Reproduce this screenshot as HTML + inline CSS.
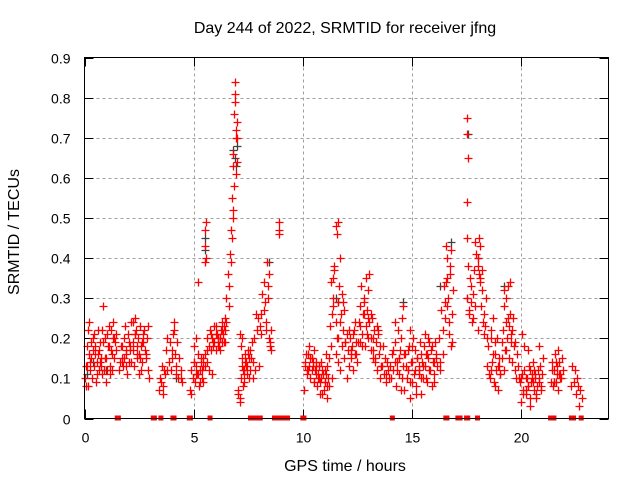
<!DOCTYPE html>
<html><head><meta charset="utf-8"><style>
body{margin:0;background:#fff;width:640px;height:480px;overflow:hidden}
svg{display:block;font-family:"Liberation Sans",sans-serif}
</style></head><body>
<svg id="chart" width="640" height="480">
<text x="345" y="33" font-size="16" text-anchor="middle" fill="#000">Day 244 of 2022, SRMTID for receiver jfng</text>
<text x="19" y="232" font-size="16" text-anchor="middle" transform="rotate(-90 19 232)">SRMTID / TECUs</text>
<text x="345" y="471" font-size="16" text-anchor="middle">GPS time / hours</text>
<g id="grid"></g>
<g id="ticks"></g>
<g id="gray"></g>
<g id="red"></g>
<rect x="84.5" y="57.5" width="524" height="361" fill="none" stroke="#000" stroke-width="1"/>
</svg>
<script>
const xTicks=[0,5,10,15,20];
const yTicks=[0,0.1,0.2,0.3,0.4,0.5,0.6,0.7,0.8,0.9];
const yTickLabels=["0","0.1","0.2","0.3","0.4","0.5","0.6","0.7","0.8","0.9"];
const redTimes=[0.02,0.05,0.1,0.12,0.15,0.2,0.22,0.25,0.3,0.32,0.35,0.4,0.42,0.45,0.5,0.52,0.55,0.6,0.62,0.65,0.7,0.72,0.75,0.8,0.82,0.85,0.9,0.92,0.95,1.0,1.02,1.05,1.1,1.12,1.15,1.2,1.22,1.25,1.3,1.32,1.35,1.4,1.42,1.45,
1.6,1.65,1.7,1.75,1.8,1.85,1.9,1.95,2.0,2.05,2.1,2.15,2.2,2.25,2.3,2.35,2.4,2.45,2.5,2.55,2.6,2.65,2.7,2.75,2.8,2.85,2.9,2.95,1.7,1.9,2.1,2.3,2.5,2.7,2.9,2.2,2.4,2.6,
3.4,3.45,3.5,3.55,3.6,3.65,3.7,3.75,3.8,3.85,3.9,3.95,4.0,4.05,4.1,4.15,4.2,4.25,4.3,4.35,4.4,4.45,3.6,3.8,4.0,4.2,4.4,4.1,
4.85,4.9,4.95,5.0,5.05,5.1,5.15,5.2,5.25,5.3,5.35,5.4,5.45,5.5,4.9,5.0,5.1,5.2,5.3,5.4,5.45,5.5,5.5,5.5,5.52,5.55,5.55,5.6,5.62,5.63,
5.7,5.75,5.8,5.85,5.9,5.95,6.0,6.05,6.1,6.15,6.2,6.25,6.3,6.35,6.4,6.45,6.5,5.8,5.9,6.0,6.1,6.2,6.3,6.4,6.45,6.5,6.55,6.6,6.65,6.7,6.75,6.78,6.8,6.82,6.85,6.88,6.9,6.92,6.95,6.98,7.0,6.6,6.7,6.8,6.9,7.0,6.85,6.75,6.95,
7.05,7.1,7.15,7.2,7.25,7.3,7.35,7.4,7.45,7.5,7.55,7.6,7.65,7.7,7.75,7.1,7.2,7.3,7.4,7.5,7.6,7.7,7.05,7.15,7.25,7.35,
7.8,7.85,7.9,7.95,8.0,8.05,8.1,8.15,8.2,8.25,8.3,8.35,8.4,8.45,8.5,8.55,8.1,8.2,8.3,8.4,8.45,8.5,8.55,8.9,8.92,8.9,
10.05,10.1,10.15,10.2,10.25,10.3,10.35,10.4,10.45,10.5,10.55,10.6,10.65,10.7,10.75,10.8,10.85,10.9,10.95,11.0,11.05,11.1,11.15,10.2,10.4,10.6,10.8,11.0,10.3,10.5,10.7,10.9,11.1,10.45,10.75,11.05,
11.2,11.25,11.3,11.35,11.4,11.45,11.5,11.55,11.6,11.65,11.7,11.75,11.8,11.85,11.9,11.95,12.0,11.3,11.4,11.45,11.5,11.55,11.6,11.5,11.6,11.4,11.7,11.8,11.9,12.0,
12.05,12.1,12.15,12.2,12.25,12.3,12.35,12.4,12.45,12.5,12.55,12.6,12.65,12.7,12.75,12.8,12.85,12.9,12.95,13.0,13.05,13.1,13.15,13.2,13.25,13.3,13.35,13.4,13.45,13.5,13.55,13.6,13.65,13.7,13.75,13.8,13.85,13.9,13.95,12.2,12.4,12.6,12.8,13.0,13.2,13.4,13.6,13.8,12.9,13.0,13.1,
14.0,14.05,14.1,14.15,14.2,14.25,14.3,14.35,14.4,14.45,14.5,14.55,14.6,14.65,14.7,14.75,14.8,14.85,14.9,14.95,15.0,15.05,15.1,15.15,15.2,15.25,15.3,15.35,15.4,15.45,15.5,15.55,15.6,15.65,15.7,15.75,15.8,15.85,15.9,15.95,16.0,16.05,16.1,16.15,14.2,14.4,14.6,14.8,15.0,15.2,15.4,15.6,15.8,16.0,14.5,14.9,15.3,15.7,
16.25,16.3,16.35,16.4,16.45,16.5,16.55,16.6,16.65,16.7,16.75,16.8,16.85,16.9,16.4,16.5,16.6,16.7,16.8,16.3,16.55,16.75,16.85,16.6,
17.5,17.52,17.55,17.5,17.52,17.5,17.55,17.6,17.65,17.7,17.75,17.8,17.85,17.9,17.95,18.0,18.05,18.1,18.15,18.2,18.25,18.3,18.35,18.4,18.45,17.6,17.7,17.8,17.9,18.0,18.1,18.2,18.3,18.0,18.05,18.1,
18.5,18.55,18.6,18.65,18.7,18.75,18.8,18.85,18.9,18.95,19.0,19.05,19.1,19.15,19.2,19.25,19.3,19.35,19.4,19.45,19.5,19.55,19.6,19.65,19.7,19.75,19.8,18.6,18.8,19.0,19.2,19.3,19.4,19.5,19.6,19.7,
19.85,19.9,19.95,20.0,20.05,20.1,20.15,20.2,20.25,20.3,20.35,20.4,20.45,20.5,20.55,20.6,20.65,20.7,20.75,20.8,20.85,20.9,20.95,21.0,20.0,20.2,20.4,20.6,20.8,20.1,20.3,20.5,20.7,
21.35,21.4,21.45,21.5,21.55,21.6,21.65,21.7,21.75,21.8,21.85,21.9,21.5,21.6,21.7,21.8,
22.3,22.35,22.4,22.45,22.5,22.55,22.6,22.65,22.7,22.8,
0.07,0.17,0.27,0.37,0.47,0.57,0.67,0.77,0.87,0.97,1.07,1.17,1.27,1.37,1.62,1.72,1.82,1.92,2.02,2.12,2.22,2.32,2.42,2.52,2.62,2.72,2.82,
5.02,5.12,5.22,5.32,5.42,5.72,5.82,5.92,6.02,6.12,6.22,6.32,6.42,7.12,7.22,7.32,7.42,7.52,7.62,
10.12,10.22,10.32,10.42,10.52,10.62,10.72,10.82,10.92,11.02,11.12,11.22,11.32,11.62,11.72,11.82,11.92,12.12,12.22,12.32,12.42,12.52,12.62,12.72,12.82,12.92,13.02,13.12,13.22,13.32,13.42,13.52,13.62,
14.12,14.22,14.32,14.42,14.52,14.62,14.72,14.82,14.92,15.02,15.12,15.22,15.32,15.42,15.52,15.62,15.72,15.82,15.92,16.02,16.12,
18.42,18.52,18.62,18.72,18.82,18.92,19.02,19.12,19.22,19.32,19.42,19.52,19.62,20.02,20.12,20.22,20.32,20.42,20.52,20.62,20.72,20.82,20.92,21.42,21.52,21.62,21.72,21.82];
const redValues=[0.10,0.08,0.18,0.13,0.22,0.16,0.24,0.12,0.19,0.15,0.10,0.17,0.21,0.13,0.18,0.09,0.14,0.16,0.22,0.12,0.19,0.14,0.15,0.11,0.22,0.28,0.12,0.20,0.15,0.09,0.21,0.12,0.23,0.18,0.11,0.22,0.17,0.12,0.20,0.24,0.15,0.19,0.21,0.17,
0.12,0.18,0.15,0.13,0.20,0.23,0.16,0.11,0.21,0.14,0.17,0.24,0.19,0.13,0.25,0.22,0.16,0.20,0.11,0.23,0.18,0.14,0.21,0.17,0.15,0.20,0.12,0.10,0.14,0.13,0.18,0.21,0.16,0.19,0.23,0.24,0.15,0.12,
0.07,0.10,0.09,0.13,0.06,0.12,0.11,0.17,0.20,0.14,0.19,0.12,0.17,0.21,0.24,0.16,0.13,0.19,0.10,0.15,0.12,0.09,0.08,0.12,0.15,0.11,0.10,0.22,
0.07,0.12,0.10,0.14,0.09,0.13,0.11,0.16,0.08,0.12,0.15,0.10,0.13,0.16,0.06,0.14,0.11,0.34,0.09,0.12,0.15,0.13,0.39,0.43,0.47,0.40,0.49,0.14,0.17,0.20,
0.18,0.22,0.17,0.20,0.19,0.23,0.17,0.21,0.19,0.18,0.20,0.22,0.19,0.21,0.23,0.22,0.24,0.21,0.18,0.23,0.20,0.17,0.24,0.19,0.25,0.30,0.36,0.33,0.41,0.47,0.55,0.50,0.66,0.63,0.76,0.84,0.81,0.72,0.61,0.74,0.70,0.28,0.39,0.52,0.79,0.64,0.58,0.45,0.70,
0.06,0.05,0.10,0.13,0.08,0.12,0.16,0.14,0.11,0.17,0.15,0.12,0.19,0.14,0.20,0.04,0.15,0.09,0.13,0.16,0.17,0.10,0.07,0.18,0.12,0.14,
0.12,0.26,0.22,0.25,0.13,0.23,0.26,0.31,0.34,0.29,0.22,0.39,0.33,0.20,0.18,0.17,0.21,0.27,0.24,0.30,0.36,0.19,0.22,0.47,0.49,0.46,
0.07,0.14,0.16,0.11,0.12,0.18,0.10,0.15,0.13,0.09,0.12,0.14,0.08,0.11,0.13,0.06,0.10,0.12,0.07,0.09,0.11,0.05,0.10,0.12,0.15,0.11,0.09,0.12,0.13,0.17,0.10,0.06,0.08,0.14,0.13,0.16,
0.15,0.23,0.18,0.26,0.30,0.38,0.48,0.46,0.49,0.33,0.40,0.26,0.31,0.22,0.27,0.19,0.21,0.34,0.28,0.37,0.24,0.20,0.29,0.16,0.14,0.35,0.12,0.18,0.15,0.10,
0.17,0.13,0.20,0.15,0.18,0.12,0.22,0.16,0.19,0.14,0.24,0.28,0.33,0.21,0.26,0.30,0.18,0.23,0.27,0.32,0.36,0.20,0.25,0.17,0.22,0.14,0.19,0.12,0.21,0.16,0.10,0.13,0.18,0.11,0.15,0.09,0.14,0.12,0.10,0.16,0.24,0.19,0.29,0.20,0.15,0.23,0.13,0.11,0.35,0.25,0.26,
0.13,0.10,0.16,0.12,0.19,0.08,0.14,0.22,0.11,0.17,0.20,0.25,0.13,0.07,0.16,0.10,0.12,0.18,0.05,0.14,0.09,0.20,0.11,0.17,0.08,0.15,0.12,0.19,0.06,0.14,0.10,0.18,0.13,0.16,0.09,0.20,0.12,0.17,0.08,0.14,0.11,0.19,0.15,0.13,0.24,0.15,0.28,0.12,0.18,0.06,0.10,0.21,0.19,0.09,0.07,0.22,0.13,0.16,
0.20,0.12,0.27,0.22,0.33,0.25,0.43,0.35,0.30,0.21,0.38,0.42,0.26,0.32,0.16,0.29,0.40,0.24,0.18,0.14,0.34,0.36,0.19,0.28,
0.75,0.71,0.65,0.54,0.45,0.30,0.38,0.26,0.35,0.29,0.24,0.31,0.37,0.44,0.41,0.40,0.45,0.35,0.28,0.32,0.24,0.26,0.23,0.30,0.20,0.27,0.33,0.25,0.28,0.22,0.43,0.37,0.21,0.38,0.36,0.34,
0.18,0.10,0.22,0.14,0.25,0.09,0.16,0.12,0.20,0.07,0.13,0.11,0.19,0.22,0.32,0.17,0.24,0.20,0.33,0.15,0.26,0.21,0.14,0.18,0.12,0.10,0.16,0.12,0.08,0.15,0.28,0.30,0.25,0.34,0.22,0.19,0.13,0.10,
0.09,0.04,0.11,0.07,0.12,0.06,0.10,0.08,0.13,0.05,0.09,0.11,0.14,0.07,0.10,0.06,0.12,0.09,0.13,0.08,0.11,0.15,0.10,0.07,0.03,0.12,0.18,0.06,0.17,0.10,0.05,0.09,0.14,
0.08,0.12,0.16,0.09,0.13,0.17,0.11,0.10,0.15,0.12,0.09,0.14,0.07,0.11,0.08,0.13,
0.09,0.12,0.06,0.10,0.08,0.03,0.07,0.05,0.13,0.08,
0.14,0.20,0.16,0.11,0.17,0.13,0.19,0.15,0.18,0.13,0.16,0.20,0.14,0.18,0.15,0.17,0.19,0.14,0.17,0.21,0.18,0.15,0.19,0.22,0.16,0.18,0.20,
0.11,0.14,0.09,0.12,0.11,0.19,0.21,0.18,0.20,0.22,0.19,0.21,0.20,0.11,0.13,0.10,0.15,0.13,0.16,
0.15,0.12,0.09,0.13,0.10,0.14,0.11,0.09,0.13,0.08,0.10,0.20,0.24,0.29,0.19,0.22,0.17,0.21,0.16,0.19,0.23,0.18,0.26,0.21,0.24,0.17,0.20,0.15,0.22,0.18,0.13,0.17,0.14,
0.12,0.15,0.10,0.16,0.13,0.17,0.09,0.14,0.12,0.15,0.11,0.16,0.13,0.10,0.15,0.12,0.18,0.14,0.16,0.13,0.11,
0.20,0.16,0.19,0.13,0.11,0.15,0.12,0.17,0.23,0.19,0.25,0.21,0.18,0.10,0.08,0.12,0.09,0.11,0.08,0.10,0.07,0.12,0.09,0.11,0.14,0.10,0.13,0.09];
const grayTimes=[0.1,0.4,1.0,5.5,5.52,6.8,6.9,6.95,7.0,8.45,11.5,11.6,16.3,16.8,17.55,17.5,18.0,19.2,14.6,4.2];
const grayValues=[0.11,0.14,0.12,0.45,0.42,0.67,0.65,0.63,0.68,0.39,0.30,0.29,0.33,0.44,0.71,0.30,0.40,0.33,0.29,0.10];
const zeroTimes=[1.5,1.55,3.15,3.2,3.5,4.05,4.1,4.8,4.85,5.75,7.6,7.7,7.85,8.0,8.05,8.7,8.75,8.8,8.85,8.95,9.1,9.3,10.0,10.05,14.1,16.55,16.6,17.1,17.2,17.5,17.55,18.0,21.35,21.45,21.5,22.3,22.4,22.75];

const X0=84.5,X1=608.5,Y0=418.5,Y1=57.5;
function xs(t){return X0+(t/24)*(X1-X0);}
function ys(v){return Y0-(v/0.9)*(Y0-Y1);}
const NS='http://www.w3.org/2000/svg';
function mk(tag,attrs,parent){const e=document.createElementNS(NS,tag);for(const k in attrs)e.setAttribute(k,attrs[k]);parent.appendChild(e);return e;}
const grid=document.getElementById('grid'),ticks=document.getElementById('ticks');
yTicks.forEach((v,i)=>{
  const y=Math.round(ys(v))+0.5;
  if(i>0&&i<yTicks.length-1){const g=mk('line',{x1:X0,x2:X1,y1:y,y2:y,stroke:'#a0a0a0','stroke-dasharray':'3,3'},grid);
  
  }
  mk('line',{x1:X0,x2:X0+9,y1:y,y2:y,stroke:'#000'},ticks);
  mk('line',{x1:X1,x2:X1-9,y1:y,y2:y,stroke:'#000'},ticks);
  const t=mk('text',{x:X0-14,y:y+5,'font-size':'14','text-anchor':'end'},ticks);t.textContent=yTickLabels[i];
  
  
});
xTicks.forEach(v=>{
  const x=Math.round(xs(v))+0.5;
  if(v>0){const g=mk('line',{x1:x,x2:x,y1:Y0,y2:Y1,stroke:'#a0a0a0','stroke-dasharray':'3,3'},grid);
  
  }
  mk('line',{x1:x,x2:x,y1:Y0,y2:Y0-9,stroke:'#000'},ticks);
  mk('line',{x1:x,x2:x,y1:Y1,y2:Y1+9,stroke:'#000'},ticks);
  const t=mk('text',{x:x,y:Y0+24,'font-size':'14','text-anchor':'middle'},ticks);t.textContent=String(v);
  
  
});
function cross(g,t,v,col){
  const x=Math.round(xs(t))+0.5,y=Math.round(ys(v))+0.5;
  const p=mk('path',{d:`M${x-4} ${y}H${x+4}M${x} ${y-4}V${y+4}`,stroke:col,'stroke-width':'1.3',fill:'none'},g);
  
  
}
const gg=document.getElementById('gray'),rg=document.getElementById('red');
grayTimes.forEach((t,i)=>cross(gg,t,grayValues[i],'#404040'));
redTimes.forEach((t,i)=>cross(rg,t,redValues[i],'#ff0000'));
zeroTimes.forEach(t=>{
  const r=mk('rect',{x:xs(t)-2.5,y:Y0-3,width:5,height:5,fill:'#ff0000'},rg);
  
  
});
</script>
</body></html>
